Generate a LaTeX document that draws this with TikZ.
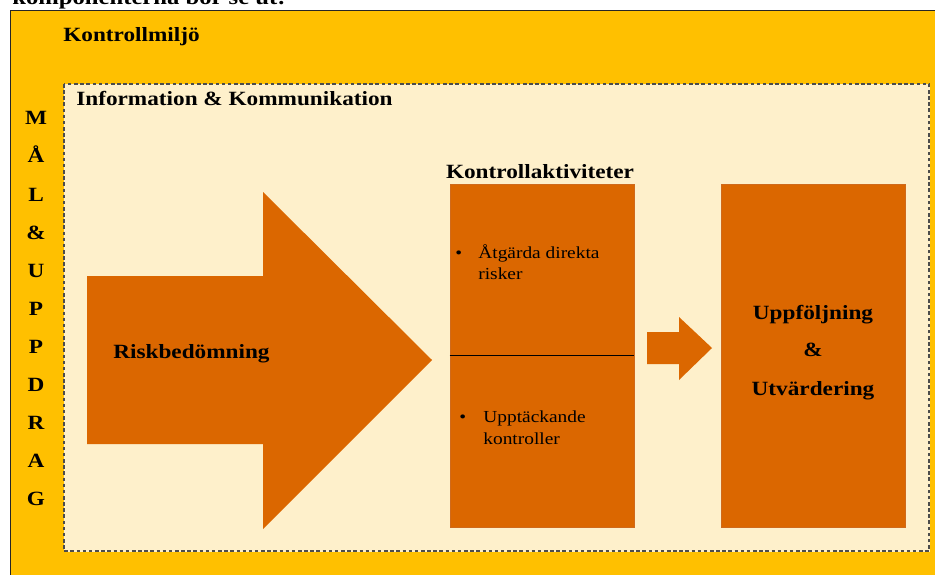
\documentclass[tikz,border=0pt]{standalone}
\usepackage{fontspec}
\setmainfont{Liberation Serif}[FakeStretch=1.15]
\usetikzlibrary{positioning}
\definecolor{miljo}{HTML}{FFC000}
\definecolor{infobg}{HTML}{FEF0CB}
\definecolor{aktiv}{HTML}{DB6700}
\definecolor{aktivedge}{HTML}{CF6A1C}

\begin{document}
\begin{tikzpicture}[x=0.02cm, y=-0.02cm,
    head/.style={font=\fontsize{11.5}{13}\selectfont\bfseries, inner sep=0pt, anchor=base west},
    btxt/.style={font=\fontsize{9.6}{11}\selectfont, inner sep=0pt, anchor=base west},
    abox/.style={rectangle, fill=aktiv, draw=aktivedge, line width=0.5pt,
                 minimum width=3.68cm, minimum height=6.86cm, inner sep=0pt},
    pil/.style={fill=aktiv}
]
    \useasboundingbox (0,0) rectangle (935,574);
    \clip (0,0) rectangle (935,574);

    % Heading above the frame
    \node[head, font=\fontsize{12.2}{14}\selectfont\bfseries] (rubrik) at (12,5) {komponenterna bör se ut:};

    % Control environment
    \fill[miljo] (10,10) rectangle (945,585);
    \draw[black!85, line width=0.8pt] (10.5,585) -- (10.5,10.5) -- (945,10.5);
    \node[head] (miljotitel) at (63,42) {Kontrollmiljö};

    % Information & communication
    \draw[infobg, fill=infobg] (64,84) rectangle (929,551);
    \draw[gray!60!black, line width=0.6pt, dash pattern=on 2pt off 1.5pt] (64,84) rectangle (929,551);
    \node[head] (infotitel) at (76,106) {Information \& Kommunikation};

    % Goal & mission letters
    \foreach \bokstav [count=\i from 0] in {M,Å,L,\&,U,P,P,D,R,A,G}
        \node[head, anchor=base] (mal\i) at (36,125+38*\i) {\bokstav};

    % Risk assessment arrow
    \fill[pil] (87,276) -- (263,276) -- (263,192) -- (432,360) -- (263,529)
        -- (263,444) -- (87,444) -- cycle;
    \node[head] (risk) at (113,358) {Riskbedömning};

    % Control activities
    \node[abox] (aktiviteter) at (542,355.5) {};
    \draw[black, line width=0.8pt] (aktiviteter.west) -- (aktiviteter.east);
    \node[head, anchor=base] (akttitel) at (540,178) {Kontrollaktiviteter};
    \node[btxt] (punkt1) at (455,258) {\textbullet};
    \node[btxt] (atgard1) at (478,258) {Åtgärda direkta};
    \node[btxt] (atgard2) at (478,279) {risker};
    \node[btxt] (punkt2) at (459,422) {\textbullet};
    \node[btxt] (upptack1) at (483,422) {Upptäckande};
    \node[btxt] (upptack2) at (483,444) {kontroller};

    % Small arrow
    \fill[pil] (647,332) -- (679,332) -- (679,317) -- (712,348) -- (679,380)
        -- (679,364) -- (647,364) -- cycle;

    % Follow-up & evaluation
    \node[abox] (uppfoljning) at (813,355.5) {};
    \node[head, anchor=base] (uppf1) at (813,319) {Uppföljning};
    \node[head, anchor=base] (uppf2) at (813,356) {\&};
    \node[head, anchor=base] (uppf3) at (813,395) {Utvärdering};
\end{tikzpicture}
\end{document}
